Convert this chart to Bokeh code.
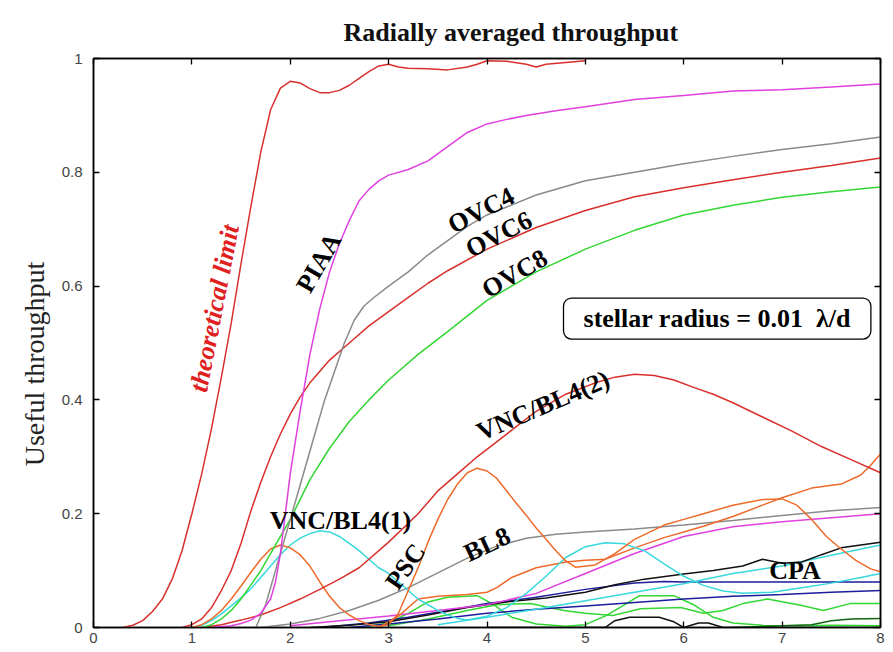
import math
from bokeh.plotting import figure
from bokeh.models import Label, LinearAxis, FixedTicker, Range1d
from bokeh.embed import file_html
from bokeh.resources import INLINE

# ---------------- data ----------------
title_text = "Radially averaged throughput"
x_ticks = [0, 1, 2, 3, 4, 5, 6, 7, 8]
x_tick_labels = ["0", "1", "2", "3", "4", "5", "6", "7", "8"]
y_ticks = [0, 0.2, 0.4, 0.6, 0.8, 1]
y_tick_labels = ["0", "0.2", "0.4", "0.6", "0.8", "1"]

theory_x = [0.3, 0.4, 0.5, 0.6, 0.7, 0.8, 0.9, 1.0, 1.1, 1.2, 1.3, 1.4, 1.5, 1.6, 1.7, 1.8, 1.9, 2.0,
            2.1, 2.2, 2.3, 2.4, 2.5, 2.6, 2.7, 2.8, 2.9, 3.0, 3.1, 3.2, 3.4, 3.6, 3.8, 3.9, 4.0, 4.2,
            4.4, 4.5, 4.6, 4.8, 5.0]
theory_y = [0.0, 0.004, 0.012, 0.028, 0.05, 0.085, 0.135, 0.2, 0.27, 0.35, 0.44, 0.535, 0.64, 0.74,
            0.835, 0.91, 0.948, 0.96, 0.957, 0.947, 0.94, 0.94, 0.944, 0.953, 0.965, 0.977, 0.987,
            0.99, 0.985, 0.983, 0.982, 0.98, 0.985, 0.99, 0.996, 0.995, 0.99, 0.985, 0.99, 0.993, 0.996]

piaa_x = [1.2, 1.4, 1.5, 1.6, 1.7, 1.8, 1.85, 1.9, 1.95, 2.0, 2.1, 2.2, 2.3, 2.4, 2.5, 2.6, 2.7, 2.8,
          2.9, 3.0, 3.2, 3.4, 3.6, 3.8, 4.0, 4.2, 4.4, 4.7, 5.0, 5.5, 6.0, 6.5, 7.0, 7.5, 8.0]
piaa_y = [0.0, 0.003, 0.007, 0.013, 0.025, 0.05, 0.08, 0.13, 0.2, 0.27, 0.38, 0.48, 0.56, 0.625, 0.675,
          0.715, 0.75, 0.77, 0.785, 0.795, 0.805, 0.82, 0.845, 0.87, 0.885, 0.893, 0.9, 0.908, 0.915,
          0.928, 0.935, 0.943, 0.945, 0.95, 0.955]

ovc4_x = [1.65, 1.75, 1.85, 1.95, 2.05, 2.15, 2.25, 2.35, 2.45, 2.55, 2.65, 2.75, 2.85, 3.0, 3.2, 3.4,
          3.6, 3.8, 4.0, 4.5, 5.0, 5.5, 6.0, 6.5, 7.0, 7.5, 8.0]
ovc4_y = [0.0, 0.04, 0.1, 0.16, 0.22, 0.28, 0.34, 0.4, 0.45, 0.5, 0.54, 0.565, 0.58, 0.6, 0.625, 0.655,
          0.68, 0.705, 0.725, 0.76, 0.785, 0.8, 0.815, 0.828, 0.84, 0.85, 0.862]

ovc6_x = [0.9, 1.0, 1.1, 1.2, 1.3, 1.4, 1.5, 1.6, 1.7, 1.8, 1.9, 2.0, 2.1, 2.2, 2.4, 2.6, 2.8, 3.0, 3.2,
          3.4, 3.6, 4.0, 4.5, 5.0, 5.5, 6.0, 6.5, 7.0, 7.5, 8.0]
ovc6_y = [0.0, 0.005, 0.015, 0.035, 0.065, 0.1, 0.148, 0.205, 0.255, 0.3, 0.34, 0.375, 0.405, 0.43,
          0.47, 0.5, 0.53, 0.555, 0.58, 0.605, 0.627, 0.665, 0.703, 0.733, 0.757, 0.773, 0.787, 0.8,
          0.812, 0.825]

ovc8_x = [1.1, 1.2, 1.3, 1.4, 1.5, 1.6, 1.7, 1.8, 1.9, 2.0, 2.2, 2.4, 2.6, 2.8, 3.0, 3.3, 3.6, 4.0, 4.5,
          5.0, 5.5, 6.0, 6.5, 7.0, 7.5, 8.0]
ovc8_y = [0.0, 0.005, 0.015, 0.03, 0.05, 0.075, 0.1, 0.13, 0.16, 0.19, 0.26, 0.315, 0.362, 0.4, 0.435,
          0.48, 0.52, 0.575, 0.625, 0.665, 0.698, 0.725, 0.742, 0.756, 0.766, 0.774]

vnc2_x = [1.1, 1.3, 1.5, 1.7, 1.9, 2.1, 2.3, 2.5, 2.7, 3.0, 3.3, 3.5, 3.7, 3.9, 4.2, 4.5, 4.8, 5.1, 5.3,
          5.5, 5.7, 5.9, 6.1, 6.3, 6.5, 6.8, 7.1, 7.4, 7.7, 8.0]
vnc2_y = [0.0, 0.005, 0.013, 0.022, 0.035, 0.05, 0.067, 0.085, 0.105, 0.15, 0.2, 0.24, 0.27, 0.3, 0.34,
          0.38, 0.41, 0.43, 0.44, 0.445, 0.443, 0.435, 0.422, 0.41, 0.395, 0.37, 0.345, 0.318, 0.295,
          0.272]

vnc1_x = [1.0, 1.1, 1.2, 1.3, 1.4, 1.5, 1.6, 1.7, 1.8, 1.9, 2.0, 2.1, 2.2, 2.3, 2.4, 2.5, 2.6, 2.7, 2.8,
          2.9, 3.0, 3.1, 3.2, 3.3, 3.4, 3.5, 3.6, 3.7, 3.8, 4.0, 4.2, 4.4, 4.6, 4.8, 5.0, 5.2, 5.4, 5.6,
          5.8, 6.0, 6.2, 6.4, 6.6, 6.9, 7.2, 7.5, 7.8, 8.0]
vnc1_y = [0.0, 0.004, 0.012, 0.024, 0.038, 0.052, 0.068, 0.088, 0.108, 0.128, 0.145, 0.157, 0.165,
          0.17, 0.168, 0.16, 0.148, 0.135, 0.12, 0.105, 0.095, 0.08, 0.065, 0.05, 0.04, 0.03, 0.022,
          0.016, 0.013, 0.02, 0.035, 0.06, 0.09, 0.123, 0.142, 0.149, 0.147, 0.135, 0.112, 0.09, 0.074,
          0.064, 0.06, 0.062, 0.07, 0.078, 0.088, 0.095]

psc_x = [1.0, 1.1, 1.2, 1.3, 1.4, 1.5, 1.6, 1.7, 1.8, 1.9, 2.0, 2.1, 2.2, 2.3, 2.4, 2.5, 2.6, 2.7, 2.8,
         2.9, 3.0, 3.1, 3.2, 3.3, 3.4, 3.5, 3.6, 3.7, 3.8, 3.9, 4.0, 4.1, 4.2, 4.3, 4.4, 4.5, 4.6, 4.7,
         4.8, 4.9, 5.1, 5.3, 5.5, 5.8, 6.0, 6.2, 6.5, 6.8, 7.0, 7.15, 7.3, 7.45, 7.6, 7.75, 7.9, 8.0]
psc_y = [0.0, 0.005, 0.015, 0.03, 0.05, 0.073, 0.097, 0.12, 0.138, 0.145, 0.14, 0.128, 0.108, 0.08,
         0.055, 0.035, 0.022, 0.012, 0.005, 0.002, 0.005, 0.025, 0.065, 0.105, 0.15, 0.19, 0.225, 0.252,
         0.272, 0.28, 0.275, 0.262, 0.24, 0.218, 0.197, 0.175, 0.155, 0.135, 0.117, 0.106, 0.11, 0.13,
         0.155, 0.18, 0.19, 0.2, 0.215, 0.225, 0.226, 0.215, 0.19, 0.16, 0.138, 0.118, 0.103, 0.098]

orange2_x = [2.9, 3.1, 3.3, 3.5, 3.8, 4.0, 4.1, 4.25, 4.5, 4.8, 5.0, 5.2, 5.5, 5.8, 6.0, 6.2, 6.5, 6.8,
             7.0, 7.3, 7.6, 7.8, 7.9, 8.0]
orange2_y = [0.0, 0.02, 0.05, 0.055, 0.058, 0.062, 0.07, 0.088, 0.105, 0.115, 0.118, 0.12, 0.14, 0.158,
             0.168, 0.178, 0.195, 0.215, 0.228, 0.245, 0.252, 0.268, 0.285, 0.305]

bl8_x = [1.7, 2.0, 2.3, 2.6, 2.9, 3.2, 3.5, 3.8, 4.1, 4.4, 4.7, 5.0, 5.5, 6.0, 6.5, 7.0, 7.5, 8.0]
bl8_y = [0.0, 0.006, 0.016, 0.03, 0.048, 0.07, 0.096, 0.122, 0.143, 0.157, 0.164, 0.168, 0.173, 0.18,
         0.188, 0.197, 0.205, 0.211]

magenta2_x = [2.0, 2.5, 3.0, 3.5, 4.0, 4.5, 5.0, 5.5, 6.0, 6.5, 7.0, 7.5, 8.0]
magenta2_y = [0.003, 0.012, 0.02, 0.03, 0.04, 0.06, 0.095, 0.13, 0.16, 0.177, 0.186, 0.193, 0.2]

cpa_x = [2.2, 2.6, 3.0, 3.4, 3.8, 4.2, 4.6, 5.0, 5.3, 5.6, 6.0, 6.3, 6.6, 6.8, 7.0, 7.2, 7.4, 7.6, 7.8, 8.0]
cpa_y = [0.0, 0.004, 0.01, 0.022, 0.035, 0.045, 0.052, 0.062, 0.075, 0.085, 0.094, 0.1, 0.108, 0.12,
         0.113, 0.115, 0.128, 0.14, 0.145, 0.15]

cyan2_x = [3.5, 4.0, 4.5, 5.0, 5.5, 6.0, 6.5, 7.0, 7.5, 8.0]
cyan2_y = [0.005, 0.018, 0.032, 0.047, 0.062, 0.077, 0.095, 0.108, 0.127, 0.145]

blue1_x = [2.3, 2.8, 3.2, 3.6, 4.0, 4.5, 5.0, 5.5, 5.8, 6.0, 7.0, 8.0]
blue1_y = [0.0, 0.008, 0.018, 0.03, 0.042, 0.053, 0.067, 0.078, 0.081, 0.08, 0.08, 0.08]

blue2_x = [2.6, 3.0, 3.5, 4.0, 4.5, 5.0, 5.5, 6.0, 6.5, 7.0, 7.5, 8.0]
blue2_y = [0.0, 0.006, 0.015, 0.025, 0.032, 0.038, 0.044, 0.05, 0.055, 0.058, 0.062, 0.065]

green_a_x = [2.7, 3.0, 3.2, 3.4, 3.6, 3.9, 4.05, 4.25, 4.5, 4.8, 5.0, 5.2, 5.35, 5.55, 5.9, 6.1, 6.3,
             6.5, 6.8, 7.2, 7.5, 8.0]
green_a_y = [0.0, 0.008, 0.025, 0.045, 0.053, 0.056, 0.042, 0.018, 0.006, 0.002, 0.005, 0.02, 0.035,
             0.056, 0.056, 0.04, 0.018, 0.008, 0.004, 0.003, 0.004, 0.003]

green_b_x = [3.0, 3.4, 3.8, 4.1, 4.44, 4.78, 5.0, 5.28, 5.56, 5.97, 6.2, 6.4, 6.6, 6.85, 7.19, 7.42,
             7.69, 8.0]
green_b_y = [0.003, 0.015, 0.03, 0.04, 0.042, 0.03, 0.025, 0.021, 0.033, 0.035, 0.025, 0.03, 0.042,
             0.05, 0.039, 0.03, 0.042, 0.042]

dkgreen_x = [6.5, 7.0, 7.3, 7.5, 7.7, 8.0]
dkgreen_y = [0.0, 0.003, 0.005, 0.012, 0.015, 0.016]

black_low_x = [4.0, 5.2, 5.3, 5.45, 5.75, 5.9, 6.0, 6.15, 6.25, 6.4, 6.6, 8.0]
black_low_y = [0.0, 0.0, 0.012, 0.018, 0.018, 0.01, 0.0, 0.008, 0.008, 0.0, 0.0, 0.0]

# ---------------- styles ----------------
RED = "#d8302c"
MAGENTA = "#e040e0"
GRAY = "#8a8a8a"
GREEN = "#33d633"
ORANGE = "#ee6a2a"
CYAN = "#38d8dc"
BLUE = "#1c1c9c"
BLACK = "#111111"

series = [
    (bl8_x, bl8_y, GRAY),
    (green_b_x, green_b_y, GREEN),
    (green_a_x, green_a_y, GREEN),
    (dkgreen_x, dkgreen_y, "#126612"),
    (black_low_x, black_low_y, BLACK),
    (blue2_x, blue2_y, BLUE),
    (blue1_x, blue1_y, BLUE),
    (cyan2_x, cyan2_y, CYAN),
    (cpa_x, cpa_y, BLACK),
    (magenta2_x, magenta2_y, MAGENTA),
    (orange2_x, orange2_y, ORANGE),
    (vnc1_x, vnc1_y, CYAN),
    (psc_x, psc_y, ORANGE),
    (vnc2_x, vnc2_y, RED),
    (ovc8_x, ovc8_y, GREEN),
    (ovc6_x, ovc6_y, RED),
    (ovc4_x, ovc4_y, GRAY),
    (piaa_x, piaa_y, MAGENTA),
    (theory_x, theory_y, RED),
]

# (text, x, y, angle in degrees, colour, font style)
annotations = [
    ("theoretical limit", 1.23, 0.561, 79, "#e02020", "bold italic"),
    ("PIAA", 2.29, 0.641, 60, "black", "bold"),
    ("OVC4", 3.94, 0.733, 27, "black", "bold"),
    ("OVC6", 4.12, 0.691, 27, "black", "bold"),
    ("OVC8", 4.28, 0.622, 30, "black", "bold"),
    ("VNC/BL4(2)", 4.57, 0.39, 23, "black", "bold"),
    ("VNC/BL4(1)", 2.51, 0.188, 0, "black", "bold"),
    ("PSC", 3.17, 0.107, 55, "black", "bold"),
    ("BL8", 4.0, 0.146, 25, "black", "bold"),
    ("CPA", 7.13, 0.10, 0, "black", "bold"),
]

p = figure(width=886, height=648, x_range=Range1d(0, 8), y_range=Range1d(0, 1),
           output_backend="svg", toolbar_location=None,
           min_border_left=93, min_border_right=6, min_border_top=58, min_border_bottom=21)

p.title.text = title_text
p.title.align = "left"
p.title.offset = 250
p.title.vertical_align = "top"
p.title.text_font = "Liberation Serif"
p.title.text_font_size = "26px"
p.title.text_font_style = "bold"
p.title.text_color = "#111111"
p.title.standoff = 20

p.xgrid.visible = False
p.ygrid.visible = False
p.outline_line_color = "black"
p.outline_line_width = 1.5
p.background_fill_color = "white"
p.border_fill_color = "white"

for xs, ys, c in series:
    p.line(xs, ys, line_color=c, line_width=1.5)

def style_axis(ax, ticks, labels, show_labels, standoff):
    ax.ticker = FixedTicker(ticks=ticks)
    ax.major_label_overrides = {t: l for t, l in zip(ticks, labels)}
    ax.minor_tick_line_color = None
    ax.major_tick_in = 6
    ax.major_tick_out = 0
    ax.major_tick_line_color = "black"
    ax.major_tick_line_width = 1.3
    ax.axis_line_color = "black"
    ax.axis_line_width = 1.5
    ax.major_label_standoff = standoff
    if show_labels:
        ax.major_label_text_font = "Liberation Sans"
        ax.major_label_text_font_size = "15px"
        ax.major_label_text_color = "#444444"
    else:
        ax.major_label_text_font_size = "0px"
        ax.major_label_text_color = None

style_axis(p.xaxis[0], x_ticks, x_tick_labels, True, 5)
style_axis(p.yaxis[0], y_ticks, y_tick_labels, True, 11)
p.yaxis[0].axis_label = "Useful throughput\u00a0\u00a0\u00a0\u00a0\u00a0\u00a0"
p.yaxis[0].axis_label_text_font = "Liberation Serif"
p.yaxis[0].axis_label_text_font_size = "28px"
p.yaxis[0].axis_label_text_font_style = "normal"
p.yaxis[0].axis_label_text_color = "#222222"
p.yaxis[0].axis_label_standoff = 9

top_ax = LinearAxis()
style_axis(top_ax, x_ticks, x_tick_labels, False, 0)
p.add_layout(top_ax, "above")
right_ax = LinearAxis()
style_axis(right_ax, y_ticks, y_tick_labels, False, 0)
p.add_layout(right_ax, "right")

for text, x, y, ang, col, style in annotations:
    p.add_layout(Label(x=x, y=y, text=text, angle=math.radians(ang),
                       text_align="center", text_baseline="middle",
                       text_font="Liberation Serif", text_font_size="26px",
                       text_font_style=style, text_color=col))

p.add_layout(Label(x=6.34, y=0.543, text="stellar radius = 0.01\u00a0 \u03bb/d",
                   text_align="center", text_baseline="middle",
                   text_font="Liberation Serif", text_font_size="26px",
                   text_font_style="bold", text_color="black",
                   background_fill_color="white", border_line_color="black",
                   border_line_width=1.3, border_radius=8,
                   padding=dict(left=20, right=20, top=6, bottom=6)))

open("out.html", "w").write(file_html(p, INLINE))
